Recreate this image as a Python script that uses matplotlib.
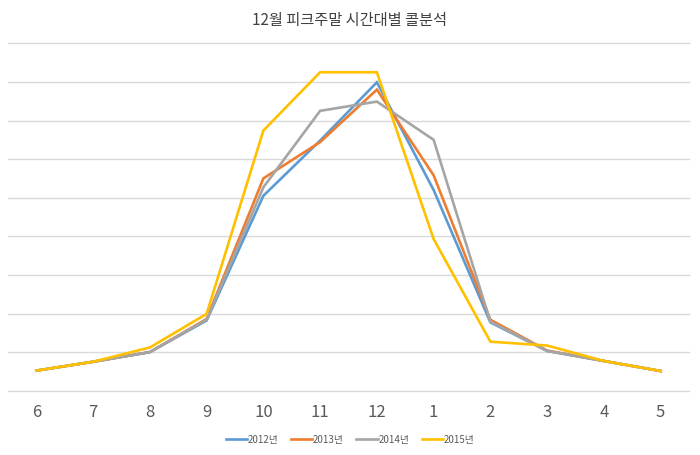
import numpy as np
import matplotlib
matplotlib.use("Agg")
import matplotlib.pyplot as plt

plt.rcParams['font.family'] = ['Noto Sans CJK KR', 'DejaVu Sans']

# hours on the x axis (arbitrary units, no y labels)
hours = ["6", "7", "8", "9", "10", "11", "12", "1", "2", "3", "4", "5"]
calls_2012 = [0.52, 0.75, 1.00, 1.82, 5.05, 6.48, 7.99, 5.20, 1.77, 1.03, 0.77, 0.51]
calls_2013 = [0.52, 0.75, 1.00, 1.86, 5.50, 6.44, 7.80, 5.58, 1.84, 1.04, 0.77, 0.51]
calls_2014 = [0.52, 0.75, 1.00, 1.84, 5.27, 7.25, 7.49, 6.50, 1.79, 1.03, 0.77, 0.51]
calls_2015 = [0.52, 0.75, 1.12, 1.99, 6.74, 8.25, 8.25, 3.93, 1.27, 1.17, 0.77, 0.51]

series = [
    ("2012년", calls_2012, "#5B9BD5"),
    ("2013년", calls_2013, "#ED7D31"),
    ("2014년", calls_2014, "#A5A5A5"),
    ("2015년", calls_2015, "#FFC000"),
]

fig = plt.figure(figsize=(7, 4.56), dpi=100)
ax = fig.add_axes([8 / 700, 64.3 / 456, 681 / 700, 347.4 / 456])

x = np.arange(len(hours))
for name, vals, color in series:
    ax.plot(x, vals, color=color, lw=1.9, label=name, solid_joinstyle="miter")

ax.set_xlim(-0.5, len(hours) - 0.5)
ax.set_ylim(0, 9)
ax.set_yticks(np.arange(0, 10))
ax.set_yticklabels([])
ax.set_xticks(x)
ax.set_xticklabels(hours, fontsize=12, color="#595959")
ax.tick_params(axis="both", length=0)
ax.tick_params(axis="x", pad=9)
ax.grid(axis="y", color="#D9D9D9", lw=1)
for gl in ax.get_ygridlines():
    gl.set_clip_on(False)
ax.set_axisbelow(True)
for s in ax.spines.values():
    s.set_visible(False)

fig.text(0.5, 1 - 20 / 456, "12월 피크주말 시간대별 콜분석", ha="center", va="center",
         fontsize=11, color="#404040")

fig.legend(loc="center", bbox_to_anchor=(0.5, 16 / 456), ncol=4, frameon=False,
           fontsize=7, handlelength=2.2, handletextpad=0.05, columnspacing=1.3,
           labelcolor="#595959")

fig.savefig("out.png", dpi=100, facecolor="white")
